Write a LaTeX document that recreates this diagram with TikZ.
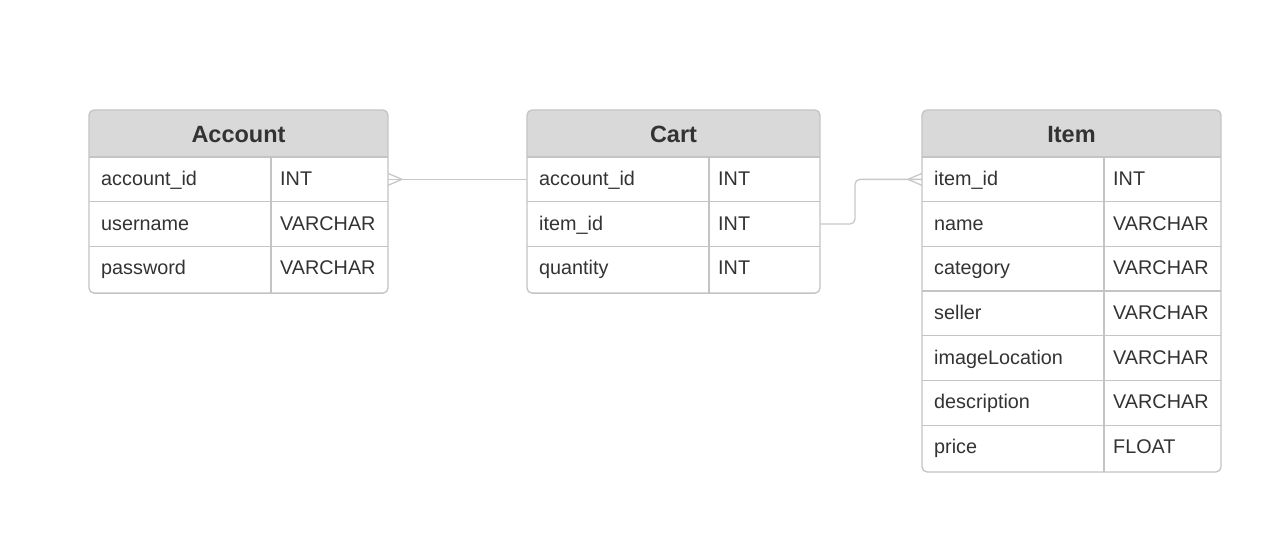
\documentclass[tikz,border=0pt]{standalone}
\usepackage{fontspec}
\setmainfont{Liberation Sans}
\definecolor{hdr}{HTML}{D9D9D9}
\definecolor{bord}{HTML}{C4C4C4}
\definecolor{txt}{HTML}{333333}
\definecolor{conn}{HTML}{C8C8C8}
\tikzset{
  tbl/.style={draw=bord, line width=1.3pt, rounded corners=5pt},
  title/.style={font=\fontsize{23.5}{26}\selectfont\bfseries, text=txt, inner sep=0pt, anchor=base},
  cell/.style={font=\fontsize{19.8}{22}\selectfont, text=txt, inner sep=0pt, anchor=base west},
  rowbox/.style={inner sep=0pt, outer sep=0pt},
  grid/.style={draw=bord, line width=1.3pt},
  rel/.style={draw=conn, line width=1.3pt},
}
\newcommand\ertable[7]{%
  \pgfmathsetmacro\ybot{157+#6*44.7+2}%
  \pgfmathsetmacro\xm{(#3+#5)/2}%
  \begin{scope}
    \clip[rounded corners=5pt] (#3,110) rectangle (#5,\ybot);
    \fill[hdr] (#3,110) rectangle (#5,157);
  \end{scope}
  \node[title] (#1) at (\xm,142) {#2};
  \draw[grid] (#4,157) -- (#4,\ybot);
  \foreach \n/\t [count=\i] in {#7} {
    \pgfmathsetmacro\ya{157+(\i-1)*44.7}
    \pgfmathsetmacro\yc{\ya+22.35}
    \draw[grid] (#3,\ya) -- (#5,\ya);
    \node[rowbox, minimum width={#5-#3}, minimum height=44.7] (#1R\i) at (\xm,\yc) {};
    \node[cell] (#1N\i) at (#3+12,\yc+6) {\n};
    \node[cell] (#1T\i) at (#4+9,\yc+6) {\t};
  }
  \draw[tbl] (#3,110) rectangle (#5,\ybot);
}
\begin{document}
\begin{tikzpicture}[x=1pt,y=-1pt]
  \fill[white] (0,0) rectangle (1284,558);
  \useasboundingbox (0,0) rectangle (1284,558);
  \ertable{acc}{Account}{89}{271}{388}{3}{account\_id/INT, username/VARCHAR, password/VARCHAR}
  \ertable{cart}{Cart}{527}{709}{820}{3}{account\_id/INT, item\_id/INT, quantity/INT}
  \ertable{item}{Item}{922}{1104}{1221}{7}{item\_id/INT, name/VARCHAR, category/VARCHAR, seller/VARCHAR, imageLocation/VARCHAR, description/VARCHAR, price/FLOAT}
  % Account -- Cart
  \draw[rel] (accR1.east) -- (cartR1.west);
  \draw[rel] ([yshift=-6pt]accR1.east) -- ([xshift=14pt]accR1.east) -- ([yshift=6pt]accR1.east);
  % Cart -- Item
  \draw[rel, rounded corners=5pt] (cartR2.east) -- ++(35,0) |- (itemR1.west);
  \draw[rel] ([yshift=-6pt]itemR1.west) -- ([xshift=-14pt]itemR1.west) -- ([yshift=6pt]itemR1.west);
\end{tikzpicture}
\end{document}
